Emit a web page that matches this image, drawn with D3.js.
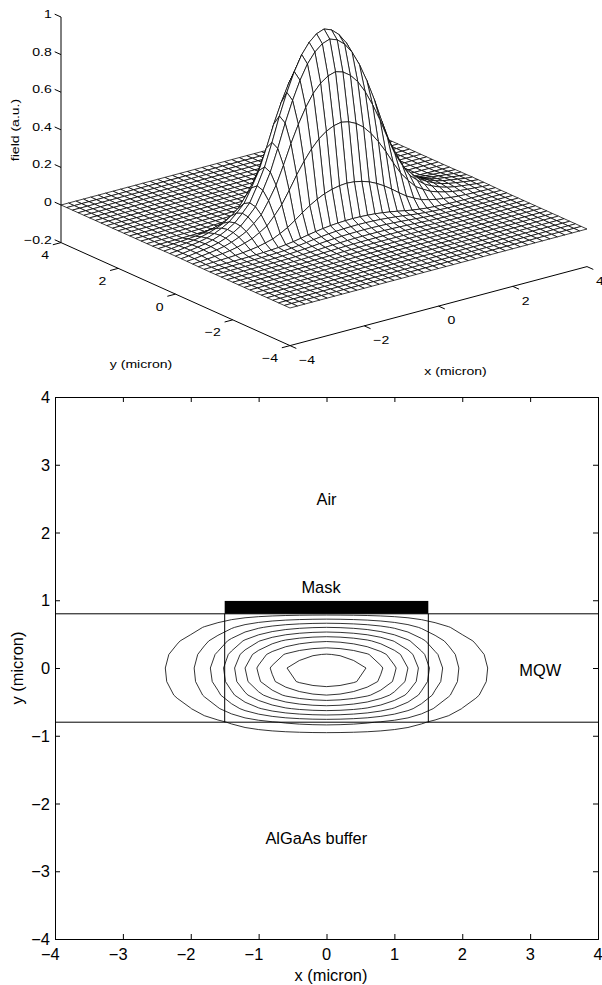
<!DOCTYPE html>
<html>
<head>
<meta charset="utf-8">
<script src="https://cdnjs.cloudflare.com/ajax/libs/d3/7.8.5/d3.min.js"></script>
<style>
body { margin: 0; background: #fff; }
svg { display: block; }
text { font-family: "Liberation Sans", Arial, sans-serif; fill: #000; }
.axis path, .axis line { stroke: #000; stroke-width: 1; fill: none; }
</style>
</head>
<body>
<svg width="602" height="985"></svg>
<script>
// mesh positions, 0.2 micron apart
var gridX = [-4,-3.8,-3.6,-3.4,-3.2,-3,-2.8,-2.6,-2.4,-2.2,-2,-1.8,-1.6,-1.4,-1.2,-1,-0.8,-0.6,-0.4,-0.2,0,0.2,0.4,0.6,0.8,1,1.2,1.4,1.6,1.8,2,2.2,2.4,2.6,2.8,3,3.2,3.4,3.6,3.8,4];
var gridY = gridX;

var profileX = [0.002,0.006,0.012,0.018,0.025,0.035,0.05,0.07,0.095,0.135,0.18,0.26,0.35,0.47,0.6,0.715,0.815,0.895,0.95,0.985,1,0.985,0.95,0.895,0.815,0.715,0.6,0.47,0.35,0.26,0.18,0.135,0.095,0.07,0.05,0.035,0.025,0.018,0.012,0.006,0.002];
var profileY = [0,0,0,0.001,0.001,0.002,0.002,0.003,0.004,0.006,0.008,0.012,0.018,0.028,0.042,0.06,0.235,0.545,0.8,0.96,1,0.905,0.69,0.4,0.07,0.03,0.016,0.009,0.005,0.003,0.002,0.001,0.001,0,0,0,0,0,0,0,0];

var contourLevels = [0.1,0.2,0.3,0.4,0.5,0.6,0.7,0.8,0.9];

var zTicks = [-0.2,0,0.2,0.4,0.6,0.8,1];
var meshTicks = [-4,-2,0,2,4];
var planTicks = [-4,-3,-2,-1,0,1,2,3,4];

// layer outlines in microns
var layerLinesY = [0.8,-0.8];
var ridgeX = [-1.5,1.5];
var maskY = [0.8,0.99];
var planLabels = ["Air","Mask","MQW","AlGaAs buffer"];
var planLabelX = [0,-0.08,3.15,-0.15];
var planLabelY = [2.4,1.1,-0.12,-2.6];

var svg = d3.select("svg");

// surface values, x index first
var field = [];
gridY.forEach(function(y, j) {
	gridX.forEach(function(x, i) {
		field.push(profileX[i] * profileY[j]);
	});
});
function fieldAt(i, j) { return field[i + j * gridX.length]; }

// ---------- top plot: 3D mesh ----------
var screenXofX = d3.scaleLinear().domain([-4,4]).range([-148.5,148.5]);
var screenXofY = d3.scaleLinear().domain([-4,4]).range([114.5,-114.5]);
var screenYofX = d3.scaleLinear().domain([-4,4]).range([39.5,-39.5]);
var screenYofY = d3.scaleLinear().domain([-4,4]).range([51.5,-51.5]);
var screenYofZ = d3.scaleLinear().domain([0,1]).range([0,-188]);

function projX(x, y) { return 324 + screenXofX(x) + screenXofY(y); }
function projY(x, y, z) { return 217 + screenYofX(x) + screenYofY(y) + screenYofZ(z); }

// back cells first, the white fill hides what is behind
var cells = [];
for (var j = gridY.length - 2; j >= 0; j--) {
	for (var i = gridX.length - 2; i >= 0; i--) {
		cells.push([[i,j],[i+1,j],[i+1,j+1],[i,j+1]]);
	}
}

var cellLine = d3.line()
	.x(function(c) { return projX(gridX[c[0]], gridY[c[1]]); })
	.y(function(c) { return projY(gridX[c[0]], gridY[c[1]], fieldAt(c[0], c[1])); })
	.curve(d3.curveLinearClosed);

svg.append("g").attr("id", "mesh")
	.selectAll("path")
	.data(cells)
	.enter().append("path")
	.attr("d", cellLine)
	.attr("fill", "#fff")
	.attr("stroke", "#000")
	.attr("stroke-width", 0.75)
	.attr("stroke-linejoin", "round");

var axes3d = svg.append("g").attr("id", "axes3d").attr("fill", "none").attr("stroke", "#000").attr("stroke-width", 1);

function seg(x1, y1, z1, x2, y2, z2) {
	axes3d.append("line")
		.attr("x1", projX(x1,y1)).attr("y1", projY(x1,y1,z1))
		.attr("x2", projX(x2,y2)).attr("y2", projY(x2,y2,z2));
}

seg(-4,4,-0.2,-4,4,1);
seg(-4,4,-0.2,-4,-4,-0.2);
seg(-4,-4,-0.2,4,-4,-0.2);

var tickLen3d = 0.22;

// top plot text is wider than it is tall
function text3d(sel, str, x, y, anchor, rot) {
	sel.append("text")
		.attr("transform", "translate(" + x + "," + y + ")" + (rot ? " rotate(-90)" : "") + " scale(1.2,1)")
		.attr("text-anchor", anchor)
		.attr("font-size", 11.7)
		.text(str);
}

var labels3d = svg.append("g").attr("id", "labels3d");
var minus = function(v) { return d3.format("")(v).replace("-", "\u2212"); };

zTicks.forEach(function(z) {
	seg(-4,4,z,-4,4 + tickLen3d,z);
	text3d(labels3d, minus(z), 51.7, projY(-4,4,z) + 1, "end");
});
meshTicks.forEach(function(t) {
	seg(-4,t,-0.2,-4 - tickLen3d,t,-0.2);
	text3d(labels3d, minus(t), projX(-4,t) - 12, projY(-4,t,-0.2) + 16.5, "end");
	seg(t,-4,-0.2,t,-4 - tickLen3d,-0.2);
	text3d(labels3d, minus(t), projX(t,-4) + 9, projY(t,-4,-0.2) + 18.3, "start");
});

text3d(labels3d, "y (micron)", 141, 368, "middle");
text3d(labels3d, "x (micron)", 455.5, 375, "middle");
text3d(labels3d, "field (a.u.)", 18.5, 130, "middle", true);

// ---------- bottom plot: contours ----------
var xscale = d3.scaleLinear().domain([-4,4]).range([55,598]);
var yscale = d3.scaleLinear().domain([-4,4]).range([939,397]);

var xaxis = d3.axisBottom(xscale).tickValues(planTicks).tickSize(-5).tickFormat("");
var xaxisTop = d3.axisTop(xscale).tickValues(planTicks).tickSize(-5).tickFormat("");
var yaxis = d3.axisLeft(yscale).tickValues(planTicks).tickSize(-5).tickFormat("");
var yaxisRight = d3.axisRight(yscale).tickValues(planTicks).tickSize(-5).tickFormat("");

svg.append("g").attr("class", "axis").attr("transform", "translate(0,939)").call(xaxis);
svg.append("g").attr("class", "axis").attr("transform", "translate(0,397)").call(xaxisTop);
svg.append("g").attr("class", "axis").attr("transform", "translate(55,0)").call(yaxis);
svg.append("g").attr("class", "axis").attr("transform", "translate(598,0)").call(yaxisRight);

var planTickText = svg.append("g").attr("id", "planTicks").attr("font-size", 16.4);
planTicks.forEach(function(t) {
	planTickText.append("text").attr("x", xscale(t) + 4.7).attr("y", 960)
		.attr("text-anchor", "end").text(minus(t));
	planTickText.append("text").attr("x", 50).attr("y", yscale(t) + 6)
		.attr("text-anchor", "end").text(minus(t));
});

svg.append("text").attr("x", 331).attr("y", 981).attr("text-anchor", "middle")
	.attr("font-size", 16.4).text("x (micron)");
svg.append("text").attr("transform", "translate(23,668) rotate(-90)").attr("text-anchor", "middle")
	.attr("font-size", 16.4).text("y (micron)");

// contour rings come back in grid cell units, values sit at cell centres
var contourX = d3.scaleLinear().domain([0.5, gridX.length - 0.5]).range([-4,4]);
var contourY = d3.scaleLinear().domain([0.5, gridY.length - 0.5]).range([-4,4]);
var contours = d3.contours().size([gridX.length, gridY.length]).thresholds(contourLevels)(field);

var ringLine = d3.line()
	.x(function(p) { return xscale(contourX(p[0])); })
	.y(function(p) { return yscale(contourY(p[1])); });

var rings = [];
contours.forEach(function(c) {
	c.coordinates.forEach(function(poly) {
		poly.forEach(function(ring) { rings.push(ring); });
	});
});

svg.append("g").attr("id", "contours")
	.selectAll("path")
	.data(rings)
	.enter().append("path")
	.attr("d", ringLine)
	.attr("fill", "none")
	.attr("stroke", "#000")
	.attr("stroke-width", 0.8);

// layer outlines and mask
var layers = svg.append("g").attr("id", "layers").attr("stroke", "#000").attr("stroke-width", 1);
layerLinesY.forEach(function(y) {
	layers.append("line").attr("x1", xscale(-4)).attr("x2", xscale(4))
		.attr("y1", yscale(y)).attr("y2", yscale(y));
});
ridgeX.forEach(function(x) {
	layers.append("line").attr("x1", xscale(x)).attr("x2", xscale(x))
		.attr("y1", yscale(layerLinesY[0])).attr("y2", yscale(layerLinesY[1]));
});
svg.append("rect")
	.attr("x", xscale(ridgeX[0]))
	.attr("y", yscale(maskY[1]))
	.attr("width", xscale(ridgeX[1]) - xscale(ridgeX[0]))
	.attr("height", yscale(maskY[0]) - yscale(maskY[1]))
	.attr("fill", "#000");

svg.append("g").attr("id", "planLabels").attr("font-size", 16.4)
	.selectAll("text")
	.data(planLabels)
	.enter().append("text")
	.attr("x", function(d, i) { return xscale(planLabelX[i]); })
	.attr("y", function(d, i) { return yscale(planLabelY[i]); })
	.attr("text-anchor", "middle")
	.text(function(d) { return d; });
</script>
</body>
</html>
